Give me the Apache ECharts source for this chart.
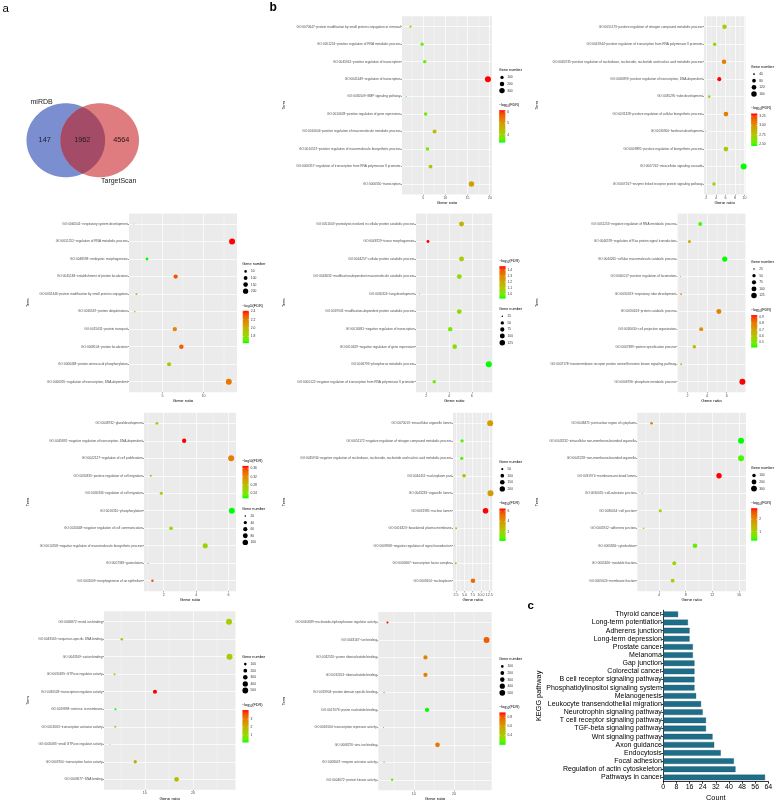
<!DOCTYPE html>
<html><head><meta charset="utf-8">
<script src="https://cdn.jsdelivr.net/npm/echarts@6/dist/echarts.min.js"></script>
<style>html,body{margin:0;padding:0;background:#fff}#c{width:778px;height:803px}</style>
</head><body><div id="c"></div>
<script>
// ---------------- DATA ----------------
const vennNames = ['miRDB', 'TargetScan'];
const vennCounts = [147, 1962, 4564]; // miRDB only, both, TargetScan only

const p1Terms = ['GO:0070647~protein modification by small protein conjugation or removal','GO:0051254~positive regulation of RNA metabolic process','GO:0045941~positive regulation of transcription','GO:0045449~regulation of transcription','GO:0030509~BMP signaling pathway','GO:0010628~positive regulation of gene expression','GO:0010604~positive regulation of macromolecule metabolic process','GO:0010557~positive regulation of macromolecule biosynthetic process','GO:0006357~regulation of transcription from RNA polymerase II promoter','GO:0006350~transcription'];
const p1Ratio = [2.2, 4.8, 5.4, 19.6, 1.2, 5.6, 7.6, 6.0, 6.7, 15.9];
const p1Count = [43, 94, 106, 385, 24, 110, 149, 118, 131, 312];
const p1Fdr = [3.9, 3.6, 3.5, 6.15, 3.3, 3.65, 4.45, 3.7, 4.4, 4.9];
const p1XTicks = ['5', '10', '15', '20'];
const p1SizeBreaks = [100, 200, 300];
const p1ColorBreaks = ['4', '5', '6'];

const p2Terms = ['GO:0051173~positive regulation of nitrogen compound metabolic process','GO:0045944~positive regulation of transcription from RNA polymerase II promoter','GO:0045935~positive regulation of nucleobase, nucleoside, nucleotide and nucleic acid metabolic process','GO:0045893~positive regulation of transcription, DNA-dependent','GO:0035295~tube development','GO:0031328~positive regulation of cellular biosynthetic process','GO:0030900~forebrain development','GO:0009891~positive regulation of biosynthetic process','GO:0007242~intracellular signaling cascade','GO:0007167~enzyme linked receptor protein signaling pathway'];
const p2Ratio = [5.8, 3.75, 5.7, 4.7, 2.6, 6.1, 1.9, 6.1, 9.8, 3.6];
const p2Count = [114, 74, 112, 92, 51, 120, 37, 120, 192, 71];
const p2Fdr = [2.71, 2.67, 3.08, 3.32, 2.67, 3.08, 2.71, 2.74, 2.45, 2.67];
const p2XTicks = ['2', '4', '6', '8', '10'];
const p2SizeBreaks = [40, 80, 120, 160];
const p2ColorBreaks = ['2.50', '2.75', '3.00', '3.25'];

const p3Terms = ['GO:0060541~respiratory system development','GO:0051252~regulation of RNA metabolic process','GO:0048598~embryonic morphogenesis','GO:0045184~establishment of protein localization','GO:0032446~protein modification by small protein conjugation','GO:0016567~protein ubiquitination','GO:0015031~protein transport','GO:0008104~protein localization','GO:0006468~protein amino acid phosphorylation','GO:0006355~regulation of transcription, DNA-dependent'];
const p3Ratio = [1.5, 13.5, 3.1, 6.6, 1.8, 1.6, 6.5, 7.3, 5.8, 13.1];
const p3Count = [29, 265, 61, 129, 35, 31, 128, 143, 114, 257];
const p3Fdr = [1.72, 2.41, 1.64, 2.31, 2.1, 1.87, 2.16, 2.29, 1.91, 2.21];
const p3XTicks = ['5', '10'];
const p3SizeBreaks = [50, 100, 150, 200];
const p3ColorBreaks = ['1.8', '2.0', '2.2', '2.4'];

const p4Terms = ['GO:0051603~proteolysis involved in cellular protein catabolic process','GO:0048729~tissue morphogenesis','GO:0044257~cellular protein catabolic process','GO:0043632~modification-dependent macromolecule catabolic process','GO:0030324~lung development','GO:0019941~modification-dependent protein catabolic process','GO:0016481~negative regulation of transcription','GO:0010629~negative regulation of gene expression','GO:0006793~phosphorus metabolic process','GO:0000122~negative regulation of transcription from RNA polymerase II promoter'];
const p4Ratio = [5.1, 2.15, 5.1, 4.9, 1.4, 4.9, 4.1, 4.5, 7.5, 2.7];
const p4Count = [100, 42, 100, 96, 24, 96, 80, 88, 147, 53];
const p4Fdr = [1.17, 1.47, 1.085, 1.04, 0.975, 1.04, 0.99, 1.04, 0.92, 1.0];
const p4XTicks = ['2', '4', '6'];
const p4SizeBreaks = [25, 50, 75, 100, 125];
const p4ColorBreaks = ['1.0', '1.1', '1.2', '1.3', '1.4'];

const p5Terms = ['GO:0051253~negative regulation of RNA metabolic process','GO:0046578~regulation of Ras protein signal transduction','GO:0044265~cellular macromolecule catabolic process','GO:0040017~positive regulation of locomotion','GO:0030323~respiratory tube development','GO:0030163~protein catabolic process','GO:0030030~cell projection organization','GO:0007389~pattern specification process','GO:0007178~transmembrane receptor protein serine/threonine kinase signaling pathway','GO:0006796~phosphate metabolic process'];
const p5Ratio = [3.3, 2.2, 5.8, 1.3, 1.35, 5.2, 3.4, 2.7, 1.35, 7.6];
const p5Count = [65, 43, 114, 24, 26, 102, 67, 53, 26, 149];
const p5Fdr = [0.445, 0.675, 0.42, 0.675, 0.78, 0.78, 0.75, 0.65, 0.675, 0.93];
const p5XTicks = ['2', '4', '6'];
const p5SizeBreaks = [25, 50, 75, 100, 125];
const p5ColorBreaks = ['0.5', '0.6', '0.7', '0.8', '0.9'];

const p6Terms = ['GO:0048732~gland development','GO:0045892~negative regulation of transcription, DNA-dependent','GO:0042127~regulation of cell proliferation','GO:0030335~positive regulation of cell migration','GO:0030334~regulation of cell migration','GO:0016310~phosphorylation','GO:0010648~negative regulation of cell communication','GO:0010558~negative regulation of macromolecule biosynthetic process','GO:0007369~gastrulation','GO:0002009~morphogenesis of an epithelium'];
const p6Ratio = [1.58, 3.26, 6.16, 1.2, 1.85, 6.2, 2.45, 4.56, 1.04, 1.3];
const p6Count = [31, 64, 121, 24, 36, 122, 48, 89, 19, 26];
const p6Fdr = [0.262, 0.372, 0.328, 0.278, 0.262, 0.215, 0.25, 0.254, 0.356, 0.353];
const p6XTicks = ['2', '4', '6'];
const p6SizeBreaks = [20, 40, 60, 80, 100];
const p6ColorBreaks = ['0.24', '0.28', '0.32', '0.36'];

const p7Terms = ['GO:0070013~intracellular organelle lumen','GO:0051172~negative regulation of nitrogen compound metabolic process','GO:0045934~negative regulation of nucleobase, nucleoside, nucleotide and nucleic acid metabolic process','GO:0044451~nucleoplasm part','GO:0043233~organelle lumen','GO:0031981~nuclear lumen','GO:0016323~basolateral plasma membrane','GO:0009968~negative regulation of signal transduction','GO:0005667~transcription factor complex','GO:0005654~nucleoplasm'];
const p7Ratio = [12.8, 4.3, 4.2, 4.9, 12.9, 11.4, 2.5, 2.1, 2.4, 7.6];
const p7Count = [251, 84, 82, 96, 253, 224, 49, 41, 47, 149];
const p7Fdr = [3.85, 0.5, 0.5, 3.0, 3.85, 6.5, 2.1, 0.2, 3.0, 5.25];
const p7XTicks = ['2.5', '5.0', '7.5', '10.0', '12.5'];
const p7SizeBreaks = [50, 100, 150, 200];
const p7ColorBreaks = ['2', '4', '6'];

const p8Terms = ['GO:0048471~perinuclear region of cytoplasm','GO:0043232~intracellular non-membrane-bounded organelle','GO:0043228~non-membrane-bounded organelle','GO:0031974~membrane-enclosed lumen','GO:0030055~cell-substrate junction','GO:0030054~cell junction','GO:0005912~adherens junction','GO:0005856~cytoskeleton','GO:0005626~insoluble fraction','GO:0005624~membrane fraction'];
const p8Ratio = [2.9, 16.3, 16.3, 13.0, 1.5, 4.2, 1.7, 9.4, 6.3, 6.05];
const p8Count = [57, 320, 320, 255, 29, 82, 33, 184, 124, 119];
const p8Fdr = [2.11, 0.27, 0.4, 2.9, 1.06, 0.93, 0.53, 0.53, 1.0, 1.0];
const p8XTicks = ['4', '8', '12', '16'];
const p8SizeBreaks = [100, 200, 300];
const p8ColorBreaks = ['1', '2'];

const p9Terms = ['GO:0046872~metal ion binding','GO:0043565~sequence-specific DNA binding','GO:0043169~cation binding','GO:0030695~GTPase regulator activity','GO:0030528~transcription regulator activity','GO:0019898~extrinsic to membrane','GO:0016563~transcription activator activity','GO:0005083~small GTPase regulator activity','GO:0003700~transcription factor activity','GO:0003677~DNA binding'];
const p9Ratio = [27.5, 5.2, 27.6, 3.7, 12.1, 3.9, 3.85, 2.75, 8.0, 16.6];
const p9Count = [540, 102, 542, 73, 237, 77, 76, 54, 157, 326];
const p9Fdr = [1.3, 1.3, 1.3, 1.3, 4.1, 0.1, 1.3, 1.3, 2.1, 1.7];
const p9XTicks = ['10', '20'];
const p9SizeBreaks = [100, 200, 300, 400, 500];
const p9ColorBreaks = ['1', '2', '3'];

const p10Terms = ['GO:0060589~nucleoside-triphosphatase regulator activity','GO:0043167~ion binding','GO:0032555~purine ribonucleotide binding','GO:0032553~ribonucleotide binding','GO:0019904~protein domain specific binding','GO:0017076~purine nucleotide binding','GO:0016564~transcription repressor activity','GO:0008270~zinc ion binding','GO:0008047~enzyme activator activity','GO:0004672~protein kinase activity'];
const p10Ratio = [3.45, 28.1, 12.9, 12.9, 2.6, 13.3, 2.45, 15.9, 2.6, 4.6];
const p10Count = [68, 551, 253, 253, 51, 261, 48, 312, 51, 90];
const p10Fdr = [0.9, 0.795, 0.69, 0.69, 0.55, 0.2, 0.55, 0.725, 0.3, 0.27];
const p10XTicks = ['10', '20'];
const p10SizeBreaks = [100, 200, 300, 400, 500];
const p10ColorBreaks = ['0.4', '0.6', '0.8'];

const keggPathways = ['Thyroid cancer','Long-term potentiation','Adherens junction','Long-term depression','Prostate cancer','Melanoma','Gap junction','Colorectal cancer','B cell receptor signaling pathway','Phosphatidylinositol signaling system','Melanogenesis','Leukocyte transendothelial migration','Neurotrophin signaling pathway','T cell receptor signaling pathway','TGF-beta signaling pathway','Wnt signaling pathway','Axon guidance','Endocytosis','Focal adhesion','Regulation of actin cytoskeleton','Pathways in cancer'];
const keggCounts = [9, 15, 16, 16, 18, 18, 19, 19, 19, 19, 20, 23, 24, 26, 26, 30, 31, 35, 43, 44, 62];
const keggTicks = 8;

// ---------------- LAYOUT ----------------
const FONT = '"Liberation Sans", Arial, Helvetica, sans-serif';
const panels = [
  {terms:p1Terms, ratio:p1Ratio, count:p1Count, fdr:p1Fdr, xt:p1XTicks, sb:p1SizeBreaks, cb:p1ColorBreaks},
  {terms:p2Terms, ratio:p2Ratio, count:p2Count, fdr:p2Fdr, xt:p2XTicks, sb:p2SizeBreaks, cb:p2ColorBreaks},
  {terms:p3Terms, ratio:p3Ratio, count:p3Count, fdr:p3Fdr, xt:p3XTicks, sb:p3SizeBreaks, cb:p3ColorBreaks},
  {terms:p4Terms, ratio:p4Ratio, count:p4Count, fdr:p4Fdr, xt:p4XTicks, sb:p4SizeBreaks, cb:p4ColorBreaks},
  {terms:p5Terms, ratio:p5Ratio, count:p5Count, fdr:p5Fdr, xt:p5XTicks, sb:p5SizeBreaks, cb:p5ColorBreaks},
  {terms:p6Terms, ratio:p6Ratio, count:p6Count, fdr:p6Fdr, xt:p6XTicks, sb:p6SizeBreaks, cb:p6ColorBreaks},
  {terms:p7Terms, ratio:p7Ratio, count:p7Count, fdr:p7Fdr, xt:p7XTicks, sb:p7SizeBreaks, cb:p7ColorBreaks},
  {terms:p8Terms, ratio:p8Ratio, count:p8Count, fdr:p8Fdr, xt:p8XTicks, sb:p8SizeBreaks, cb:p8ColorBreaks},
  {terms:p9Terms, ratio:p9Ratio, count:p9Count, fdr:p9Fdr, xt:p9XTicks, sb:p9SizeBreaks, cb:p9ColorBreaks},
  {terms:p10Terms, ratio:p10Ratio, count:p10Count, fdr:p10Fdr, xt:p10XTicks, sb:p10SizeBreaks, cb:p10ColorBreaks}
];
const layout = [
  {l:402, r:492, t:16.2, b:194.5, termX:284, lx:498.7, ly:70, order:'sc'},
  {l:704, r:745.5, t:16.2, b:194.5, termX:536.7, lx:750.7, ly:66.7, order:'sc'},
  {l:129, r:237, t:213.5, b:392.2, termX:28.3, lx:242.3, ly:264, order:'sc'},
  {l:416, r:492.3, t:213.5, b:392.2, termX:284, lx:499, ly:261, order:'cs'},
  {l:677.5, r:745.5, t:213.5, b:392.2, termX:536.7, lx:750.7, ly:261.7, order:'sc'},
  {l:144, r:236, t:412.8, b:591.2, termX:28.3, lx:242, ly:460.7, order:'cs'},
  {l:453, r:492.3, t:412.8, b:591.2, termX:284, lx:499, ly:461.7, order:'sc'},
  {l:637.3, r:746, t:412.8, b:591.2, termX:536.7, lx:750.7, ly:468, order:'sc'},
  {l:104, r:235.5, t:611.2, b:789.8, termX:28.3, lx:242, ly:656.7, order:'sc'},
  {l:378.3, r:491.7, t:612, b:790.3, termX:284, lx:499, ly:659, order:'sc'}
];

// ---------------- helpers ----------------
function toLin(c){c/=255;return c<=0.04045?c/12.92:Math.pow((c+0.055)/1.055,2.4);}
function toGam(c){c=c<=0.0031308?12.92*c:1.055*Math.pow(c,1/2.4)-0.055;return Math.max(0,Math.min(255,Math.round(c*255)));}
function rgb2lab(rgb){const R=toLin(rgb[0]),G=toLin(rgb[1]),B=toLin(rgb[2]);
  const X=(0.4124*R+0.3576*G+0.1805*B)/0.95047,Y=(0.2126*R+0.7152*G+0.0722*B),Z=(0.0193*R+0.1192*G+0.9505*B)/1.08883;
  const f=t=>t>0.008856?Math.cbrt(t):7.787*t+16/116;const fx=f(X),fy=f(Y),fz=f(Z);
  return [116*fy-16,500*(fx-fy),200*(fy-fz)];}
function lab2rgb(lab){const fy=(lab[0]+16)/116,fx=fy+lab[1]/500,fz=fy-lab[2]/200;
  const fi=t=>t>0.206893?t*t*t:(t-16/116)/7.787;const X=fi(fx)*0.95047,Y=fi(fy),Z=fi(fz)*1.08883;
  const R=3.2406*X-1.5372*Y-0.4986*Z,G=-0.9689*X+1.8758*Y+0.0415*Z,B=0.0557*X-0.2040*Y+1.0570*Z;
  return 'rgb('+toGam(R)+','+toGam(G)+','+toGam(B)+')';}
const LOW=rgb2lab([0,255,0]), HIGH=rgb2lab([255,0,0]);
function grad(t){t=Math.max(0,Math.min(1,t));return lab2rgb([0,1,2].map(k=>LOW[k]+(HIGH[k]-LOW[k])*t));}
const DMIN=1.1, DMAX=6.0;
function sizeOf(c,lo,hi){return DMIN+(DMAX-DMIN)*Math.sqrt(Math.max(0,(c-lo)/(hi-lo)));}

const option = {animation:false, grid:[], xAxis:[], yAxis:[], series:[], graphic:{elements:[]}};
const G = option.graphic.elements;
function txt(x,y,text,size,opts){G.push(Object.assign({type:'text',x:x,y:y,silent:true,style:Object.assign({text:text,fontSize:size,fontFamily:FONT,fill:'#000',align:'left',verticalAlign:'middle'},opts||{})}));}

panels.forEach((p,i)=>{
  const L=layout[i], n=p.terms.length;
  const rmin=Math.min(...p.ratio), rmax=Math.max(...p.ratio);
  const xmin=rmin-0.05*(rmax-rmin), xmax=rmax+0.05*(rmax-rmin);
  const cmin=Math.min(...p.count), cmax=Math.max(...p.count);
  const fmin=Math.min(...p.fdr), fmax=Math.max(...p.fdr);
  const ticks=p.xt.map(Number);
  const idx=p.terms.map((t,k)=>k+1);
  option.grid.push({left:L.l, top:L.t, width:L.r-L.l, height:L.b-L.t, show:true, backgroundColor:'#EBEBEB', borderWidth:0});
  option.xAxis.push({gridIndex:i, type:'value', min:xmin, max:xmax,
    name:'Gene ratio', nameLocation:'middle', nameGap:5.4, nameTextStyle:{fontSize:4.4, color:'#000', fontFamily:FONT},
    axisLine:{show:false}, axisTick:{show:true, customValues:ticks, length:1.2, lineStyle:{color:'#333', width:0.5}},
    axisLabel:{customValues:ticks, fontSize:3.6, color:'#4d4d4d', margin:1.6, fontFamily:FONT,
      formatter:v=>{let b=0;ticks.forEach((t,k)=>{if(Math.abs(t-v)<Math.abs(ticks[b]-v))b=k;});return p.xt[b];}},
    splitLine:{show:false}});
  option.yAxis.push({gridIndex:i, type:'value', inverse:true, min:0.4, max:n+0.6,
    name:'Term', nameLocation:'middle', nameRotate:90, nameGap:L.l-L.termX-1.9, nameTextStyle:{fontSize:3.8, color:'#000', fontFamily:FONT},
    axisLine:{show:false}, axisTick:{show:true, customValues:idx, length:1.2, lineStyle:{color:'#333', width:0.5}},
    axisLabel:{customValues:idx, fontSize:3.2, color:'#4d4d4d', margin:1.4, fontFamily:FONT, formatter:v=>p.terms[Math.round(v)-1]},
    splitLine:{show:false}});
  // grid lines
  const step=ticks.length>1?ticks[1]-ticks[0]:10;
  const minors=[];
  for(let k=0;k<ticks.length-1;k++) minors.push((ticks[k]+ticks[k+1])/2);
  if(ticks[0]-step/2>xmin) minors.push(ticks[0]-step/2);
  if(ticks[ticks.length-1]+step/2<xmax) minors.push(ticks[ticks.length-1]+step/2);
  const ml=[];
  minors.forEach(v=>ml.push({xAxis:v, lineStyle:{color:'#fff', width:0.35, type:'solid'}}));
  ticks.forEach(v=>ml.push({xAxis:v, lineStyle:{color:'#fff', width:0.7, type:'solid'}}));
  idx.forEach(v=>ml.push({yAxis:v, lineStyle:{color:'#fff', width:0.7, type:'solid'}}));
  option.series.push({type:'scatter', xAxisIndex:i, yAxisIndex:i, data:[], z:1, silent:true,
    markLine:{silent:true, z:1, zlevel:0, symbol:['none','none'], label:{show:false}, animation:false, data:ml}});
  option.series.push({type:'scatter', xAxisIndex:i, yAxisIndex:i, z:10, silent:true,
    data:p.ratio.map((r,k)=>({value:[r,k+1,p.count[k],p.fdr[k]], symbolSize:sizeOf(p.count[k],cmin,cmax),
      itemStyle:{color:grad((p.fdr[k]-fmin)/(fmax-fmin)), opacity:1}}))});
  // legends
  const sizeBlock=(y0)=>{
    txt(L.lx, y0, 'Gene number', 3.8);
    let y=y0;
    p.sb.forEach((s,k)=>{
      y=y0+7.4+k*6.6;
      G.push({type:'circle', silent:true, shape:{cx:L.lx+3.3, cy:y, r:sizeOf(s,cmin,cmax)/2}, style:{fill:'#000'}});
      txt(L.lx+8.5, y, String(s), 3.3, {fill:'#333'});
    });
    return y;
  };
  const colorBlock=(y0)=>{
    G.push({type:'text', x:L.lx, y:y0, silent:true, style:{text:'{a|\u2212log}{s|10}{a|(FDR)}', fontFamily:FONT, fill:'#000', verticalAlign:'middle',
      rich:{a:{fontSize:3.8, lineHeight:5, fontFamily:FONT}, s:{fontSize:2.7, lineHeight:5, verticalAlign:'bottom', fontFamily:FONT}}}});
    const bt=y0+5.2, bh=32.4, bx=L.lx+0.4, bw=6.2;
    const stops=[];for(let k=0;k<=12;k++)stops.push({offset:k/12, color:grad(1-k/12)});
    G.push({type:'rect', silent:true, shape:{x:bx, y:bt, width:bw, height:bh}, style:{fill:{type:'linear', x:0, y:0, x2:0, y2:1, colorStops:stops}}});
    p.cb.forEach(s=>{
      const v=Number(s), yy=bt+(fmax-v)/(fmax-fmin)*bh;
      G.push({type:'line', silent:true, shape:{x1:bx, y1:yy, x2:bx+1.2, y2:yy}, style:{stroke:'#fff', lineWidth:0.4}});
      G.push({type:'line', silent:true, shape:{x1:bx+bw-1.2, y1:yy, x2:bx+bw, y2:yy}, style:{stroke:'#fff', lineWidth:0.4}});
      txt(L.lx+8.5, yy, s, 3.3, {fill:'#333'});
    });
    return bt+bh;
  };
  if(L.order==='sc'){const e=sizeBlock(L.ly); colorBlock(e+14.4);}
  else {const e=colorBlock(L.ly); sizeBlock(e+10.3);}
});

// ---------------- panel c ----------------
const ci = panels.length;
option.grid.push({left:663.3, top:610.2, width:105, height:171.3, show:false});
option.xAxis.push({gridIndex:ci, type:'value', min:0, max:64, interval:keggTicks,
  name:'Count', nameLocation:'middle', nameGap:12.8, nameTextStyle:{fontSize:7.3, color:'#000', fontFamily:FONT},
  axisLine:{show:true, lineStyle:{color:'#000', width:0.8}}, axisTick:{show:true, length:2.2, lineStyle:{color:'#000', width:0.8}},
  axisLabel:{fontSize:7, color:'#000', margin:2.5, fontFamily:FONT}, splitLine:{show:false}});
option.yAxis.push({gridIndex:ci, type:'category', inverse:true, data:keggPathways,
  name:'KEGG pathway', nameLocation:'middle', nameRotate:90, nameGap:116, nameTextStyle:{fontSize:7.3, color:'#000', fontFamily:FONT},
  axisLine:{show:true, lineStyle:{color:'#000', width:0.8}}, axisTick:{show:true, alignWithLabel:true, length:2, lineStyle:{color:'#000', width:0.8}},
  axisLabel:{fontSize:7, color:'#000', margin:1.5, interval:0, fontFamily:FONT}, splitLine:{show:false}});
option.series.push({type:'bar', xAxisIndex:ci, yAxisIndex:ci, data:keggCounts, barWidth:5.6, silent:true,
  itemStyle:{color:'#1f6e88', borderColor:'#12485a', borderWidth:0.3}});

// ---------------- Venn (panel a) ----------------
const VA={cx:65.8, cy:140.3, rx:39.3, ry:37}, VB={cx:99.7, cy:140.3, rx:39.3, ry:37};
function ell(c,a0,a1,m){const pts=[];for(let k=0;k<=m;k++){const t=a0+(a1-a0)*k/m;pts.push([c.cx+c.rx*Math.cos(t), c.cy+c.ry*Math.sin(t)]);}return pts;}
const xm=(VA.cx+VB.cx)/2, th=Math.acos((xm-VA.cx)/VA.rx);
G.push({type:'polygon', silent:true, shape:{points:ell(VA,0,2*Math.PI,120)}, style:{fill:'#7b8ed0'}});
G.push({type:'polygon', silent:true, shape:{points:ell(VB,0,2*Math.PI,120)}, style:{fill:'#df7c7f'}});
G.push({type:'polygon', silent:true, shape:{points:ell(VA,-th,th,50).concat(ell(VB,Math.PI-th,Math.PI+th,50))}, style:{fill:'#a34b67'}});
txt(44.7, 140, String(vennCounts[0]), 7.3, {align:'center', fill:'#1e1e30'});
txt(82.3, 140, String(vennCounts[1]), 7.3, {align:'center', fill:'#1e1e1e'});
txt(121.3, 140, String(vennCounts[2]), 7.3, {align:'center', fill:'#2a1414'});
txt(30.5, 102.5, vennNames[0], 7, {fill:'#222'});
txt(101, 180.7, vennNames[1], 7, {fill:'#222'});

// panel letters
txt(2.5, 8.5, 'a', 11.5, {fill:'#000'});
txt(269.5, 8, 'b', 12, {fill:'#000', fontWeight:'bold'});
txt(527.5, 606, 'c', 11.5, {fill:'#000', fontWeight:'bold'});

const chart = echarts.init(document.getElementById('c'), null, {renderer:'canvas'});
chart.setOption(option);
</script>
</body></html>
